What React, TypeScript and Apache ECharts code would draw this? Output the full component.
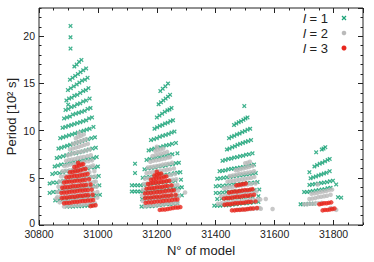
import React, { useEffect, useRef } from "react";
import * as echarts from "echarts";

const FONT = '"Liberation Sans", Arial, Helvetica, sans-serif';
const GREEN = "#1ea47a";
const GREY = "#bababa";
const RED = "#e8261c";
const INK = "#222222";

const xTicks = { min: 30800, max: 31900, major: 200, minor: 50 };
const yTicks = { min: 0, max: 23, major: 5, minor: 1 };
const legendLabels = ["1", "2", "3"];

// l = 1 (green crosses)
const l1c1: [number, number][] = [
  [30907, 21.1], [30907, 19.9], [30907, 18.7],
  [30920, 16.8], [30928, 17.0], [30936, 17.3], [30944, 17.5],
  [30905, 15.4], [30914, 15.6], [30923, 15.8], [30932, 16.0], [30941, 16.2], [30950, 16.4], [30960, 16.6],
  [30898, 14.3], [30908, 14.5], [30918, 14.7], [30928, 14.9], [30937, 15.1], [30946, 15.3], [30956, 15.4], [30965, 15.6],
  [30893, 13.2], [30902, 13.4], [30911, 13.5], [30920, 13.7], [30930, 13.8], [30940, 14.0], [30950, 14.2], [30959, 14.3], [30968, 14.5],
  [30899, 12.75],
  [30890, 12.2], [30900, 12.3], [30910, 12.5], [30920, 12.6], [30930, 12.8], [30940, 12.9], [30950, 13.1], [30960, 13.2], [30972, 13.4],
  [30885, 11.3], [30895, 11.4], [30905, 11.5], [30915, 11.7], [30925, 11.8], [30935, 11.9], [30945, 12.0], [30955, 12.1], [30965, 12.3], [30975, 12.4],
  [30880, 10.3], [30890, 10.4], [30900, 10.5], [30910, 10.6], [30920, 10.7], [30930, 10.8], [30940, 10.9], [30950, 11.0], [30960, 11.1], [30970, 11.3], [30980, 11.4],
  [30872, 9.2], [30882, 9.3], [30892, 9.4], [30902, 9.5], [30912, 9.6], [30922, 9.7], [30932, 9.8], [30942, 9.9], [30952, 10.0], [30962, 10.1], [30972, 10.2], [30985, 10.4],
  [30866, 8.1], [30876, 8.2], [30886, 8.3], [30896, 8.4], [30906, 8.5], [30916, 8.6], [30926, 8.7], [30936, 8.8], [30946, 8.9], [30956, 9.0], [30966, 9.1], [30978, 9.2], [30990, 9.3],
  [30860, 7.1], [30871, 7.2], [30882, 7.3], [30893, 7.4], [30904, 7.5], [30915, 7.6], [30926, 7.6], [30937, 7.7], [30948, 7.8], [30959, 7.9], [30970, 8.0], [30981, 8.1], [30993, 8.2],
  [30853, 6.2], [30864, 6.3], [30875, 6.4], [30886, 6.4], [30897, 6.5], [30908, 6.6], [30919, 6.7], [30930, 6.7], [30941, 6.8], [30952, 6.9], [30963, 7.0], [30974, 7.0], [30985, 7.1], [30996, 7.2],
  [30845, 5.4], [30857, 5.5], [30869, 5.5], [30881, 5.6], [30893, 5.7], [30905, 5.7], [30917, 5.8], [30929, 5.8], [30941, 5.9], [30953, 6.0], [30965, 6.0], [30977, 6.1], [30989, 6.1], [31000, 6.2],
  [30836, 4.4], [30848, 4.5], [30860, 4.5], [30872, 4.6], [30884, 4.7], [30896, 4.7], [30908, 4.8], [30920, 4.8], [30932, 4.9], [30944, 4.9], [30956, 5.0], [30968, 5.0], [30980, 5.1], [30992, 5.1], [31003, 5.2],
  [30836, 3.4], [30848, 3.5], [30860, 3.5], [30872, 3.6], [30884, 3.7], [30896, 3.7], [30908, 3.8], [30920, 3.8], [30932, 3.9], [30944, 3.9], [30956, 4.0], [30968, 4.0], [30980, 4.1], [30992, 4.1], [31005, 4.2],
  [30855, 2.6], [30868, 2.65], [30881, 2.7], [30894, 2.75], [30907, 2.8], [30920, 2.85], [30933, 2.9], [30946, 2.95], [30959, 3.0], [30972, 3.05], [30985, 3.1], [30996, 3.15], [31007, 3.2],
  [30895, 1.95], [30905, 1.95], [30915, 1.95], [30925, 2.0], [30935, 2.0], [30945, 2.0], [30955, 2.05], [30965, 2.05], [30975, 2.1], [30985, 2.1],
];
const l1c2: [number, number][] = [
  [31212, 14.2], [31220, 14.45], [31229, 14.7], [31238, 15.0],
  [31206, 12.8], [31214, 13.0], [31222, 13.2], [31230, 13.4], [31238, 13.6], [31245, 13.8],
  [31200, 11.4], [31209, 11.6], [31218, 11.8], [31227, 12.0], [31236, 12.15], [31243, 12.25], [31250, 12.4],
  [31192, 10.2], [31201, 10.35], [31210, 10.5], [31219, 10.6], [31228, 10.75], [31237, 10.85], [31246, 11.0], [31255, 11.1],
  [31180, 9.0], [31190, 9.1], [31200, 9.2], [31210, 9.35], [31220, 9.45], [31230, 9.55], [31240, 9.65], [31250, 9.8], [31260, 9.9],
  [31172, 7.9], [31182, 8.0], [31192, 8.1], [31202, 8.2], [31212, 8.25], [31222, 8.35], [31232, 8.45], [31242, 8.5], [31252, 8.6], [31265, 8.7],
  [31165, 6.9], [31176, 7.0], [31187, 7.05], [31198, 7.15], [31209, 7.2], [31220, 7.3], [31231, 7.35], [31242, 7.45], [31253, 7.5], [31270, 7.6],
  [31158, 5.9], [31170, 6.0], [31182, 6.05], [31194, 6.1], [31206, 6.2], [31218, 6.25], [31230, 6.3], [31242, 6.4], [31254, 6.45], [31265, 6.55], [31275, 6.6],
  [31152, 5.0], [31164, 5.05], [31176, 5.1], [31188, 5.15], [31200, 5.2], [31212, 5.25], [31224, 5.3], [31236, 5.35], [31248, 5.4], [31260, 5.5], [31270, 5.55], [31280, 5.6],
  [31126, 6.5], [31126, 5.5],
  [31115, 4.2], [31125, 4.2], [31135, 4.2], [31145, 4.2], [31155, 4.25], [31167, 4.3], [31179, 4.35], [31191, 4.4], [31203, 4.45], [31215, 4.5], [31227, 4.55], [31239, 4.6], [31251, 4.65], [31263, 4.7], [31282, 4.8],
  [31115, 3.55], [31125, 3.55], [31135, 3.55], [31145, 3.55], [31155, 3.6], [31167, 3.6], [31179, 3.65], [31191, 3.7], [31203, 3.7], [31215, 3.75], [31227, 3.8], [31239, 3.85], [31251, 3.9], [31263, 3.9], [31275, 3.95], [31285, 4.0],
  [31150, 2.75], [31162, 2.8], [31174, 2.8], [31186, 2.85], [31198, 2.9], [31210, 2.9], [31222, 2.95], [31234, 3.0], [31246, 3.05], [31258, 3.05], [31270, 3.1], [31285, 3.15],
  [31148, 1.95], [31160, 1.95], [31172, 2.0], [31184, 2.0], [31196, 2.05], [31208, 2.1], [31220, 2.15], [31232, 2.2], [31244, 2.2], [31256, 2.25], [31270, 2.3],
];
const l1c3: [number, number][] = [
  [31497, 12.6],
  [31462, 10.6], [31470, 10.75], [31478, 10.9], [31486, 11.0], [31494, 11.15], [31501, 11.3], [31508, 11.4],
  [31445, 9.2], [31454, 9.35], [31463, 9.45], [31472, 9.6], [31481, 9.7], [31490, 9.85], [31499, 9.95], [31508, 10.1], [31517, 10.2],
  [31438, 8.0], [31447, 8.1], [31456, 8.25], [31465, 8.35], [31474, 8.5], [31483, 8.6], [31492, 8.7], [31501, 8.8], [31510, 8.9], [31520, 9.0],
  [31423, 6.8], [31433, 6.9], [31443, 7.0], [31453, 7.05], [31463, 7.15], [31473, 7.2], [31483, 7.3], [31493, 7.35], [31503, 7.45], [31513, 7.5], [31525, 7.6],
  [31413, 5.7], [31423, 5.75], [31433, 5.8], [31443, 5.9], [31453, 5.95], [31463, 6.0], [31473, 6.05], [31483, 6.1], [31493, 6.15], [31503, 6.2], [31513, 6.3], [31522, 6.35], [31530, 6.4],
  [31405, 4.9], [31416, 4.95], [31427, 5.0], [31438, 5.05], [31449, 5.1], [31460, 5.15], [31471, 5.2], [31482, 5.25], [31493, 5.3], [31504, 5.35], [31515, 5.4], [31526, 5.45], [31536, 5.5],
  [31400, 4.1], [31412, 4.15], [31424, 4.15], [31436, 4.2], [31448, 4.25], [31460, 4.3], [31472, 4.3], [31484, 4.35], [31496, 4.4], [31508, 4.45], [31520, 4.45], [31532, 4.5], [31542, 4.55],
  [31400, 3.4], [31412, 3.4], [31424, 3.45], [31436, 3.5], [31448, 3.5], [31460, 3.55], [31472, 3.55], [31484, 3.6], [31496, 3.6], [31508, 3.65], [31520, 3.7], [31532, 3.7], [31548, 3.75],
  [31405, 2.75], [31420, 2.8], [31435, 2.8], [31450, 2.85], [31465, 2.9], [31480, 2.9], [31495, 2.95], [31510, 3.0], [31525, 3.0], [31545, 3.05],
  [31395, 2.05], [31405, 2.05], [31415, 2.05], [31425, 2.1], [31435, 2.1], [31445, 2.1], [31457, 2.15], [31469, 2.2], [31481, 2.25], [31493, 2.3], [31505, 2.3], [31517, 2.35], [31529, 2.4], [31545, 2.45],
];
const l1c4: [number, number][] = [
  [31741, 7.7], [31760, 8.0], [31766, 8.1], [31772, 8.25],
  [31735, 6.2], [31744, 6.35], [31753, 6.5], [31762, 6.6], [31771, 6.75], [31780, 6.9], [31787, 7.0],
  [31718, 5.6],
  [31722, 4.95], [31731, 5.05], [31740, 5.15], [31749, 5.25], [31758, 5.35], [31767, 5.45], [31776, 5.55], [31787, 5.7],
  [31718, 4.25], [31728, 4.3], [31738, 4.35], [31748, 4.4], [31758, 4.45], [31768, 4.5], [31778, 4.55], [31788, 4.65], [31798, 4.7], [31809, 4.3],
  [31700, 3.5], [31710, 3.5], [31720, 3.55], [31730, 3.6], [31740, 3.65], [31750, 3.7], [31760, 3.75], [31770, 3.8], [31780, 3.9], [31790, 3.95],
  [31815, 2.95], [31826, 2.9],
  [31688, 2.2], [31697, 2.2], [31706, 2.2], [31715, 2.25], [31724, 2.25], [31733, 2.25],
];

// l = 2 (grey dots)
const l2c1: [number, number][] = [
  [30936, 9.75],
  [30925, 9.2], [30934, 9.35], [30943, 9.45], [30952, 9.6],
  [30915, 8.6], [30924, 8.7], [30933, 8.8], [30942, 8.9], [30951, 9.0], [30960, 9.1],
  [30905, 8.0], [30915, 8.1], [30925, 8.2], [30935, 8.3], [30945, 8.4], [30955, 8.5], [30966, 8.6],
  [30898, 7.4], [30908, 7.5], [30918, 7.6], [30928, 7.7], [30938, 7.75], [30948, 7.8], [30960, 7.9], [30972, 8.0],
  [30892, 6.8], [30902, 6.9], [30912, 6.95], [30922, 7.0], [30932, 7.1], [30942, 7.15], [30952, 7.2], [30964, 7.3], [30976, 7.4],
  [30886, 6.25], [30896, 6.3], [30906, 6.4], [30916, 6.45], [30926, 6.5], [30936, 6.55], [30946, 6.6], [30956, 6.7], [30968, 6.75], [30980, 6.85],
  [30880, 5.7], [30892, 5.75], [30904, 5.8], [30916, 5.9], [30928, 5.95], [30940, 6.0], [30952, 6.1], [30964, 6.15], [30976, 6.2], [30984, 6.3],
  [30875, 5.15], [30887, 5.2], [30899, 5.25], [30911, 5.3], [30923, 5.4], [30935, 5.45], [30947, 5.5], [30959, 5.55], [30971, 5.6], [30988, 5.7],
  [30870, 4.6], [30882, 4.65], [30894, 4.7], [30906, 4.75], [30918, 4.8], [30930, 4.85], [30942, 4.9], [30954, 4.95], [30966, 5.0], [30978, 5.1], [30990, 5.15],
  [30866, 4.05], [30878, 4.1], [30890, 4.15], [30902, 4.2], [30914, 4.25], [30926, 4.3], [30938, 4.35], [30950, 4.4], [30962, 4.45], [30974, 4.5], [30986, 4.55], [30993, 4.6],
  [30862, 3.5], [30874, 3.55], [30886, 3.6], [30898, 3.65], [30910, 3.7], [30922, 3.75], [30934, 3.8], [30946, 3.85], [30958, 3.9], [30970, 3.95], [30982, 4.0], [30995, 4.05],
  [30862, 2.95], [30874, 3.0], [30886, 3.05], [30898, 3.1], [30910, 3.15], [30922, 3.2], [30934, 3.25], [30946, 3.3], [30958, 3.35], [30970, 3.4], [30984, 3.45], [30998, 3.5],
  [30870, 2.4], [30882, 2.45], [30894, 2.5], [30906, 2.55], [30918, 2.6], [30930, 2.65], [30942, 2.7], [30954, 2.75], [30966, 2.8], [30980, 2.85], [30998, 2.9],
  [30885, 1.95], [30897, 2.0], [30909, 2.05], [30921, 2.1], [30933, 2.1], [30945, 2.15], [30957, 2.2], [30969, 2.25], [30981, 2.25], [30990, 2.3],
  [30859, 2.8],
];
const l2c2: [number, number][] = [
  [31200, 8.3],
  [31195, 7.85], [31204, 7.95], [31213, 8.0], [31222, 8.1],
  [31185, 7.3], [31195, 7.4], [31205, 7.5], [31215, 7.55], [31225, 7.65], [31235, 7.75],
  [31178, 6.7], [31188, 6.8], [31198, 6.85], [31208, 6.9], [31218, 7.0], [31228, 7.05], [31238, 7.15], [31245, 7.2],
  [31170, 6.1], [31180, 6.15], [31190, 6.2], [31200, 6.25], [31210, 6.3], [31220, 6.4], [31230, 6.45], [31240, 6.5], [31252, 6.6],
  [31165, 5.5], [31175, 5.55], [31185, 5.6], [31195, 5.65], [31205, 5.7], [31215, 5.75], [31225, 5.8], [31235, 5.85], [31245, 5.9], [31258, 6.0],
  [31160, 4.9], [31171, 4.95], [31182, 5.0], [31193, 5.05], [31204, 5.1], [31215, 5.15], [31226, 5.2], [31237, 5.25], [31248, 5.3], [31262, 5.4],
  [31156, 4.35], [31167, 4.4], [31178, 4.45], [31189, 4.5], [31200, 4.55], [31211, 4.6], [31222, 4.65], [31233, 4.7], [31244, 4.75], [31255, 4.8], [31266, 4.85],
  [31153, 3.75], [31165, 3.8], [31177, 3.85], [31189, 3.9], [31201, 3.95], [31213, 4.0], [31225, 4.05], [31237, 4.1], [31249, 4.15], [31260, 4.2], [31270, 4.25],
  [31150, 3.15], [31162, 3.2], [31174, 3.25], [31186, 3.3], [31198, 3.35], [31210, 3.4], [31222, 3.45], [31234, 3.5], [31246, 3.55], [31258, 3.6], [31272, 3.65],
  [31152, 2.55], [31164, 2.6], [31176, 2.65], [31188, 2.7], [31200, 2.75], [31212, 2.8], [31224, 2.85], [31236, 2.9], [31248, 2.95], [31260, 3.0], [31275, 3.05],
  [31160, 2.0], [31172, 2.05], [31184, 2.1], [31196, 2.1], [31208, 2.15], [31220, 2.2], [31232, 2.25], [31244, 2.3], [31256, 2.3], [31270, 2.35],
  [31296, 3.45],
];
const l2c3: [number, number][] = [
  [31500, 6.55], [31508, 6.6], [31516, 6.7],
  [31468, 5.8], [31477, 5.85], [31486, 5.95], [31495, 6.0], [31504, 6.1], [31513, 6.15], [31525, 6.25],
  [31448, 5.2], [31458, 5.25], [31468, 5.3], [31478, 5.4], [31488, 5.45], [31498, 5.5], [31508, 5.55], [31518, 5.6], [31530, 5.7],
  [31440, 4.6], [31450, 4.65], [31460, 4.7], [31470, 4.75], [31480, 4.8], [31490, 4.85], [31500, 4.9], [31510, 4.95], [31520, 5.0], [31531, 5.1],
  [31428, 3.9], [31438, 3.95], [31448, 4.0], [31458, 4.05], [31468, 4.1], [31478, 4.15], [31488, 4.2], [31498, 4.25], [31508, 4.3], [31520, 4.35], [31535, 4.4],
  [31418, 3.05], [31430, 3.1], [31442, 3.15], [31454, 3.2], [31466, 3.25], [31478, 3.3], [31490, 3.35], [31502, 3.4], [31514, 3.45], [31526, 3.5], [31538, 3.55],
  [31408, 2.25], [31420, 2.3], [31432, 2.35], [31444, 2.4], [31456, 2.45], [31468, 2.5], [31480, 2.5], [31492, 2.55], [31504, 2.6], [31516, 2.65], [31528, 2.7], [31542, 2.7],
  [31470, 1.6], [31482, 1.65], [31494, 1.65], [31506, 1.7], [31518, 1.7], [31530, 1.75], [31540, 1.75], [31548, 1.8],
  [31551, 2.7], [31570, 2.75], [31553, 1.73], [31593, 1.7],
];
const l2c4: [number, number][] = [
  [31746, 4.3],
  [31725, 3.3], [31735, 3.35], [31745, 3.4], [31755, 3.5], [31765, 3.55], [31775, 3.6], [31785, 3.7], [31795, 3.75],
  [31718, 2.75], [31728, 2.8], [31738, 2.85], [31748, 2.95], [31758, 3.0], [31768, 3.05], [31778, 3.1], [31790, 3.2],
  [31700, 2.2], [31710, 2.2], [31720, 2.25], [31730, 2.25], [31740, 2.3], [31750, 2.3], [31760, 2.35],
  [31790, 1.8], [31800, 1.7], [31809, 1.6],
];

// l = 3 (red dots)
const l3c1: [number, number][] = [
  [30933, 6.6],
  [30920, 6.15], [30928, 6.2], [30936, 6.3], [30944, 6.4], [30950, 6.45],
  [30905, 5.6], [30914, 5.65], [30923, 5.7], [30932, 5.75], [30941, 5.8], [30950, 5.9], [30958, 5.95],
  [30893, 5.05], [30902, 5.1], [30911, 5.15], [30920, 5.2], [30929, 5.2], [30938, 5.25], [30947, 5.3], [30956, 5.35], [30965, 5.4],
  [30885, 4.5], [30894, 4.55], [30903, 4.6], [30912, 4.6], [30921, 4.65], [30930, 4.7], [30939, 4.7], [30948, 4.75], [30957, 4.8], [30970, 4.85],
  [30879, 3.95], [30888, 4.0], [30897, 4.0], [30906, 4.05], [30915, 4.1], [30924, 4.1], [30933, 4.15], [30942, 4.2], [30951, 4.2], [30960, 4.25], [30975, 4.3],
  [30876, 3.4], [30885, 3.45], [30894, 3.45], [30903, 3.5], [30912, 3.55], [30921, 3.55], [30930, 3.6], [30939, 3.65], [30948, 3.65], [30957, 3.7], [30966, 3.7], [30979, 3.75],
  [30877, 2.85], [30886, 2.9], [30895, 2.9], [30904, 2.95], [30913, 3.0], [30922, 3.0], [30931, 3.05], [30940, 3.1], [30949, 3.1], [30958, 3.15], [30967, 3.15], [30982, 3.2],
  [30885, 2.3], [30894, 2.35], [30903, 2.35], [30912, 2.4], [30921, 2.45], [30930, 2.45], [30939, 2.5], [30948, 2.55], [30957, 2.55], [30966, 2.6], [30975, 2.6], [30984, 2.65],
  [30975, 2.0], [30983, 2.05], [30992, 2.1],
];
const l3c2: [number, number][] = [
  [31200, 5.65],
  [31192, 5.25], [31200, 5.3], [31208, 5.4], [31215, 5.45],
  [31180, 4.8], [31189, 4.85], [31198, 4.9], [31207, 4.95], [31216, 5.0], [31225, 5.1], [31232, 5.15],
  [31170, 4.35], [31179, 4.4], [31188, 4.45], [31197, 4.5], [31206, 4.5], [31215, 4.55], [31224, 4.6], [31233, 4.65], [31242, 4.7],
  [31165, 3.85], [31174, 3.9], [31183, 3.9], [31192, 3.95], [31201, 4.0], [31210, 4.0], [31219, 4.05], [31228, 4.1], [31237, 4.15], [31250, 4.2],
  [31160, 3.35], [31170, 3.4], [31180, 3.4], [31190, 3.45], [31200, 3.5], [31210, 3.5], [31220, 3.55], [31230, 3.6], [31240, 3.65], [31250, 3.65], [31258, 3.7],
  [31160, 2.85], [31170, 2.9], [31180, 2.9], [31190, 2.95], [31200, 3.0], [31210, 3.0], [31220, 3.05], [31230, 3.1], [31240, 3.1], [31250, 3.15], [31264, 3.2],
  [31162, 2.35], [31172, 2.4], [31182, 2.4], [31192, 2.45], [31202, 2.5], [31212, 2.5], [31222, 2.55], [31232, 2.6], [31242, 2.6], [31252, 2.65], [31262, 2.7], [31270, 2.7],
  [31210, 1.6], [31219, 1.65], [31228, 1.65], [31237, 1.7], [31246, 1.75], [31255, 1.8], [31264, 1.85], [31272, 1.85], [31280, 1.9],
];
const l3c3: [number, number][] = [
  [31470, 4.2], [31478, 4.25], [31486, 4.3], [31494, 4.35], [31502, 4.4],
  [31445, 3.45], [31454, 3.5], [31463, 3.55], [31472, 3.55], [31481, 3.6], [31490, 3.65], [31499, 3.7], [31508, 3.7], [31517, 3.75], [31525, 3.8],
  [31428, 2.8], [31437, 2.85], [31446, 2.85], [31455, 2.9], [31464, 2.95], [31473, 3.0], [31482, 3.0], [31491, 3.05], [31500, 3.1], [31509, 3.1], [31518, 3.15], [31530, 3.2],
  [31430, 2.15], [31439, 2.2], [31448, 2.2], [31457, 2.25], [31466, 2.3], [31475, 2.3], [31484, 2.35], [31493, 2.35], [31502, 2.4], [31511, 2.45], [31520, 2.45], [31535, 2.5],
  [31455, 1.55], [31464, 1.55], [31473, 1.6], [31482, 1.6], [31491, 1.65], [31500, 1.65], [31509, 1.7], [31518, 1.75], [31527, 1.75], [31540, 1.8],
];
const l3c4: [number, number][] = [
  [31752, 2.2], [31760, 2.25], [31768, 2.3], [31776, 2.3], [31784, 2.35], [31792, 2.4],
  [31763, 1.55], [31771, 1.6], [31779, 1.6], [31787, 1.65], [31795, 1.7], [31803, 1.75],
];

const CROSS = "path://M2,0L5,3L8,0L10,2L7,5L10,8L8,10L5,7L2,10L0,8L3,5L0,2Z";

function tickAxis(dim: "x" | "y", position: string, interval: number, len: number, labels: boolean, extra: any = {}) {
  const t = dim === "x" ? xTicks : yTicks;
  return {
    type: "value",
    position,
    min: t.min,
    max: t.max,
    interval,
    axisLine: { show: false, onZero: false },
    axisTick: { show: true, inside: true, length: len, lineStyle: { color: INK, width: 1 } },
    axisLabel: labels
      ? {
          show: true, showMaxLabel: false, fontSize: 10.5, fontFamily: FONT, color: INK,
          margin: dim === "x" ? 3.5 : 4,
          formatter: dim === "y"
            ? (v: number) => (v === 0 ? "{z|0}" : String(v))
            : (v: number) => String(v),
          rich: { z: { fontSize: 10.5, fontFamily: FONT, color: INK, padding: [0, 0, 5, 0] } },
        }
      : { show: false },
    splitLine: { show: false },
    ...extra,
  };
}

export default function App() {
  const ref = useRef<HTMLDivElement>(null);
  useEffect(() => {
    document.body.style.margin = "0";
    const chart = echarts.init(ref.current!, null, { renderer: "svg" });
    const legendY = [18, 33, 48];
    const option: any = {
      animation: false,
      grid: {
        left: 39, right: 11, top: 8, bottom: 37,
        show: true, borderColor: INK, borderWidth: 1, backgroundColor: "transparent",
        containLabel: false, outerBoundsMode: "none",
      },
      xAxis: [
        tickAxis("x", "bottom", xTicks.major, 5, true, {
          name: "N° of model", nameLocation: "middle", nameGap: 19, nameMoveOverlap: false,
          nameTextStyle: { fontSize: 13, fontFamily: FONT, color: INK },
        }),
        tickAxis("x", "top", xTicks.major, 5, false),
        tickAxis("x", "bottom", xTicks.minor, 2.5, false),
        tickAxis("x", "top", xTicks.minor, 2.5, false),
      ],
      yAxis: [
        tickAxis("y", "left", yTicks.major, 5, true, {
          name: "Period [10² s]", nameLocation: "middle", nameGap: 21, nameMoveOverlap: false,
          nameTextStyle: { fontSize: 13, fontFamily: FONT, color: INK },
        }),
        tickAxis("y", "right", yTicks.major, 5, false),
        tickAxis("y", "left", yTicks.minor, 2.5, false),
        tickAxis("y", "right", yTicks.minor, 2.5, false),
      ],
      series: [
        {
          type: "scatter", name: "l = 1", xAxisIndex: 0, yAxisIndex: 0,
          data: [...l1c1, ...l1c2, ...l1c3, ...l1c4],
          symbol: CROSS, symbolSize: 4.5,
          itemStyle: { color: GREEN, opacity: 0.85 },
        },
        {
          type: "scatter", name: "l = 2", xAxisIndex: 0, yAxisIndex: 0,
          data: [...l2c1, ...l2c2, ...l2c3, ...l2c4],
          symbol: "circle", symbolSize: 4.5,
          itemStyle: { color: GREY },
        },
        {
          type: "scatter", name: "l = 3", xAxisIndex: 0, yAxisIndex: 0,
          data: [...l3c1, ...l3c2, ...l3c3, ...l3c4],
          symbol: "circle", symbolSize: 4.5,
          itemStyle: { color: RED },
        },
      ],
      graphic: [
        ...legendLabels.map((v, i) => ({
          type: "text", x: 328, y: legendY[i], z: 100,
          style: {
            text: "{i|l} = " + v,
            rich: { i: { fontStyle: "italic", fontSize: 13, fontFamily: FONT, fill: INK } },
            fontSize: 13, fontFamily: FONT, fill: INK,
            align: "right", verticalAlign: "middle", textAlign: "right", textVerticalAlign: "middle",
          },
        })),
        { type: "line", z: 100, shape: { x1: 342, y1: 16, x2: 346, y2: 20 }, style: { stroke: GREEN, lineWidth: 1.2 } },
        { type: "line", z: 100, shape: { x1: 342, y1: 20, x2: 346, y2: 16 }, style: { stroke: GREEN, lineWidth: 1.2 } },
        { type: "circle", z: 100, shape: { cx: 344, cy: legendY[1], r: 2.3 }, style: { fill: GREY } },
        { type: "circle", z: 100, shape: { cx: 344, cy: legendY[2], r: 2.5 }, style: { fill: RED } },
      ],
    };
    chart.setOption(option);
    return () => chart.dispose();
  }, []);
  return <div ref={ref} style={{ width: 374, height: 262 }} />;
}
